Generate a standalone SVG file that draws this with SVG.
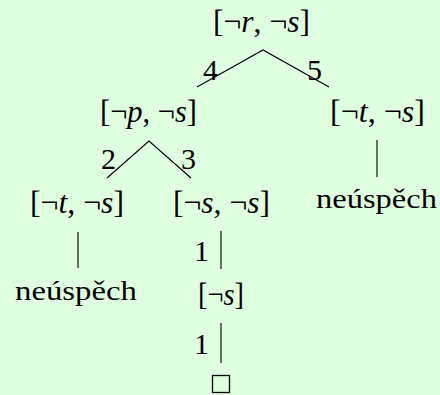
<svg xmlns="http://www.w3.org/2000/svg" width="440" height="395" viewBox="0 0 440 395">
<defs>
<style>
.edge{stroke:#000;stroke-width:1.1;fill:none}
</style>
</defs>
<rect x="0" y="0" width="440" height="395" fill="#e0ffe0"/>
<g id="connectors">
<polyline class="edge" points="197,87 263,50 329,87"/>
<polyline class="edge" points="107,178 149,141 191,178"/>
<line class="edge" x1="78" y1="232" x2="78" y2="268"/>
<line class="edge" x1="377" y1="140" x2="377" y2="177"/>
<line class="edge" x1="221" y1="231" x2="221" y2="269"/>
<line class="edge" x1="221" y1="323" x2="221" y2="363"/>
<text font-family="Liberation Serif" font-size="30" x="203" y="80">4</text>
<text font-family="Liberation Serif" font-size="30" x="307" y="80">5</text>
<text font-family="Liberation Serif" font-size="30" x="101" y="169">2</text>
<text font-family="Liberation Serif" font-size="30" x="181" y="169">3</text>
<text font-family="Liberation Serif" font-size="30" x="194" y="261">1</text>
<text font-family="Liberation Serif" font-size="30" x="194" y="354">1</text>
</g>
<g id="n-root"><text font-family="Liberation Serif" font-size="31" x="213" y="32" textLength="97" lengthAdjust="spacingAndGlyphs">[¬<tspan font-style="italic">r</tspan>, ¬<tspan font-style="italic">s</tspan>]</text></g>
<g id="n-ps"><text font-family="Liberation Serif" font-size="31" x="100" y="122" textLength="97" lengthAdjust="spacingAndGlyphs">[¬<tspan font-style="italic">p</tspan>, ¬<tspan font-style="italic">s</tspan>]</text></g>
<g id="n-ts-right"><text font-family="Liberation Serif" font-size="31" x="330" y="122" textLength="95" lengthAdjust="spacingAndGlyphs">[¬<tspan font-style="italic">t</tspan>, ¬<tspan font-style="italic">s</tspan>]</text></g>
<g id="n-ts-left"><text font-family="Liberation Serif" font-size="31" x="30" y="213" textLength="94" lengthAdjust="spacingAndGlyphs">[¬<tspan font-style="italic">t</tspan>, ¬<tspan font-style="italic">s</tspan>]</text></g>
<g id="n-ss"><text font-family="Liberation Serif" font-size="31" x="173" y="213" textLength="97" lengthAdjust="spacingAndGlyphs">[¬<tspan font-style="italic">s</tspan>, ¬<tspan font-style="italic">s</tspan>]</text></g>
<g id="n-s"><text font-family="Liberation Serif" font-size="31" x="198" y="305" textLength="46" lengthAdjust="spacingAndGlyphs">[¬<tspan font-style="italic">s</tspan>]</text></g>
<g id="n-fail-right"><text font-family="Liberation Serif" font-size="27" x="316" y="208" textLength="121" lengthAdjust="spacingAndGlyphs">neúspěch</text></g>
<g id="n-fail-left"><text font-family="Liberation Serif" font-size="27" x="15" y="300" textLength="122" lengthAdjust="spacingAndGlyphs">neúspěch</text></g>
<g id="n-empty"><rect x="212.5" y="375.5" width="17" height="17" fill="none" stroke="#000" stroke-width="1.3"/></g>
</svg>
